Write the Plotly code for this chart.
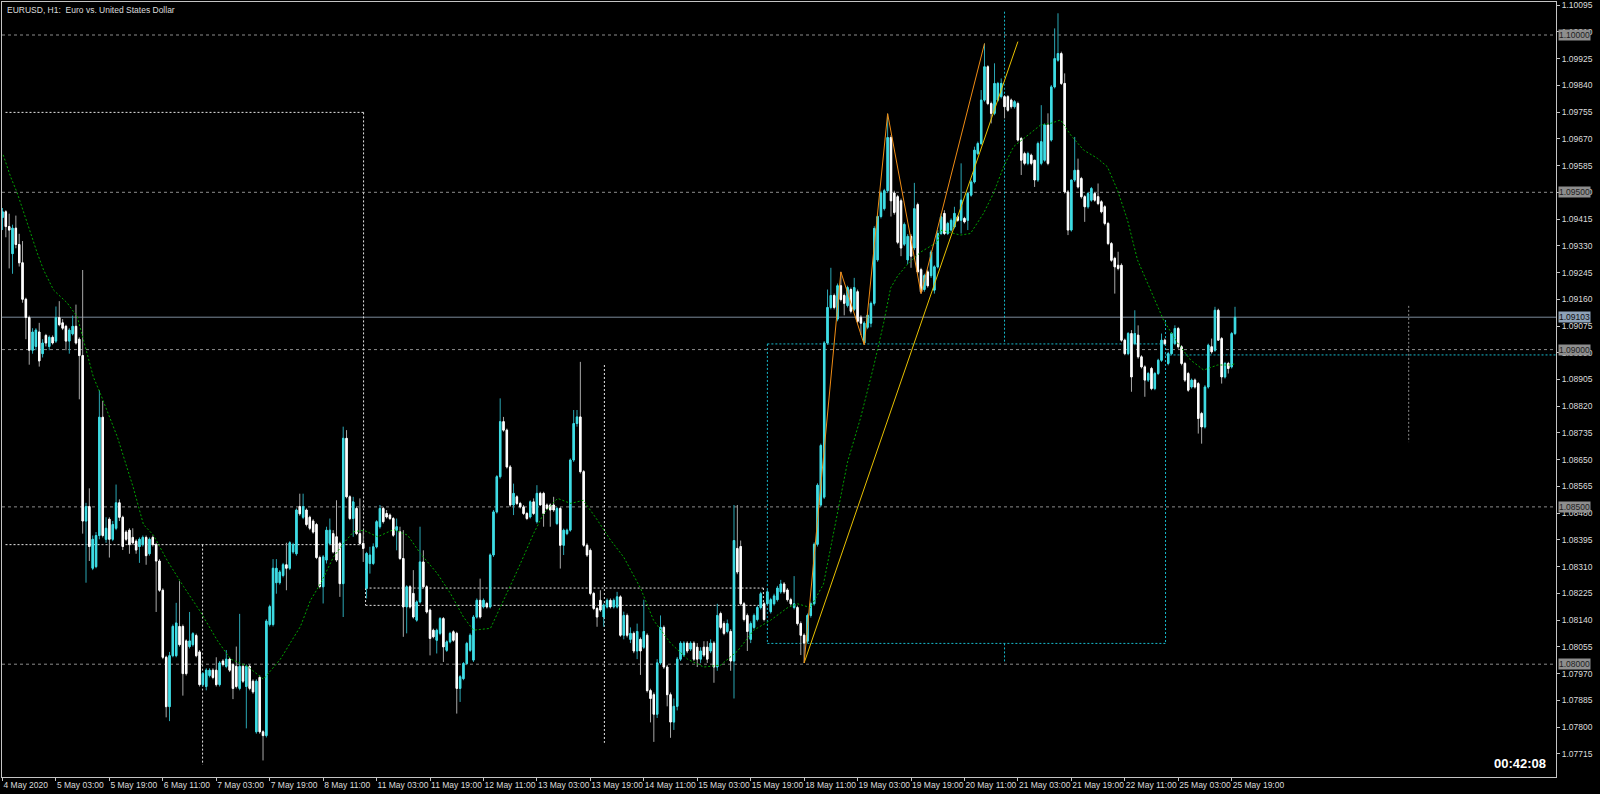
import plotly.graph_objects as go

# ---------------- data (EURUSD H1) ----------------
tick_bars = [0, 16, 32, 48, 64, 80, 96, 112, 128, 144, 160, 176, 192, 208, 224, 240,
             256, 272, 288, 304, 320, 336, 352, 368]
tick_labels = ["4 May 2020", "5 May 03:00", "5 May 19:00", "6 May 11:00", "7 May 03:00",
               "7 May 19:00", "8 May 11:00", "11 May 03:00", "11 May 19:00", "12 May 11:00",
               "13 May 03:00", "13 May 19:00", "14 May 11:00", "15 May 03:00", "15 May 19:00",
               "18 May 11:00", "19 May 03:00", "19 May 19:00", "20 May 11:00", "21 May 03:00",
               "21 May 19:00", "22 May 11:00", "25 May 03:00", "25 May 19:00"]
price_ticks = [1.10095, 1.10010, 1.09925, 1.09840, 1.09755, 1.09670, 1.09585, 1.09500, 1.09415,
               1.09330, 1.09245, 1.09160, 1.09075, 1.08990, 1.08905, 1.08820, 1.08735, 1.08650,
               1.08565, 1.08480, 1.08395, 1.08310, 1.08225, 1.08140, 1.08055, 1.07970, 1.07885,
               1.07800, 1.07715, 1.07630]
round_levels = [1.10000, 1.09500, 1.09000, 1.08500, 1.08000]
current_price = 1.09103

opens = [
 1.09420,1.09438,1.09391,1.09305,1.09386,1.09334,1.09276,1.09160,1.09102,1.08998,
 1.09010,1.09056,1.08987,1.09045,1.09010,1.09039,1.09027,1.09102,1.09085,1.09074,
 1.09027,1.09050,1.09074,1.09033,1.08981,1.08455,1.08501,1.08305,1.08310,1.08409,
 1.08785,1.08397,1.08461,1.08397,1.08432,1.08513,1.08467,1.08420,1.08426,1.08403,
 1.08391,1.08374,1.08380,1.08403,1.08351,1.08403,1.08380,1.08328,1.08235,1.08022,
 1.07865,1.08027,1.08027,1.08120,1.08120,1.08074,1.08056,1.08062,1.08091,1.08039,
 1.07935,1.07929,1.07964,1.07981,1.07981,1.07935,1.08010,1.07993,1.08016,1.07999,
 1.07993,1.07923,1.07993,1.07929,1.07993,1.07946,1.07785,1.07958,1.07785,1.07773,
 1.08126,1.08126,1.08259,1.08259,1.08282,1.08316,1.08305,1.08357,1.08351,1.08501,
 1.08467,1.08490,1.08467,1.08455,1.08444,1.08339,1.08246,1.08331,1.08384,1.08415,
 1.08405,1.08384,1.08256,1.08718,1.08532,1.08463,1.08495,1.08415,1.08384,1.08241,
 1.08320,1.08320,1.08373,1.08437,1.08495,1.08479,1.08474,1.08463,1.08426,1.08421,
 1.08336,1.08182,1.08246,1.08225,1.08140,1.08198,1.08325,1.08246,1.08172,1.08108,
 1.08076,1.08098,1.08145,1.08044,1.08071,1.08103,1.08098,1.07923,1.07954,1.08002,
 1.08044,1.08013,1.08150,1.08203,1.08182,1.08193,1.08182,1.08347,1.08484,1.08596,
 1.08771,1.08744,1.08627,1.08506,1.08532,1.08511,1.08500,1.08479,1.08468,1.08516,
 1.08453,1.08543,1.08543,1.08506,1.08506,1.08506,1.08447,1.08495,1.08378,1.08415,
 1.08426,1.08649,1.08765,1.08786,1.08612,1.08378,1.08362,1.08225,1.08177,1.08203,
 1.08150,1.08182,1.08203,1.08182,1.08182,1.08214,1.08092,1.08155,1.08079,1.08098,
 1.08042,1.08079,1.08054,1.08092,1.07916,1.07903,1.07841,1.08004,1.08117,1.07991,
 1.07903,1.07816,1.07866,1.08016,1.08029,1.08067,1.08048,1.08067,1.08054,1.08016,
 1.08054,1.08054,1.08042,1.08067,1.07991,1.08161,1.08129,1.08104,1.08104,1.08010,
 1.08368,1.08374,1.08192,1.08155,1.08079,1.08117,1.08142,1.08180,1.08192,1.08192,
 1.08167,1.08192,1.08205,1.08230,1.08255,1.08236,1.08205,1.08180,1.08180,1.08129,
 1.08092,1.08073,1.08155,1.08192,1.08381,1.08506,1.08531,1.09021,1.09134,1.09172,
 1.09097,1.09203,1.09172,1.09140,1.09191,1.09128,1.09184,1.09103,1.09021,1.09071,
 1.09084,1.09147,1.09285,1.09423,1.09448,1.09505,1.09674,1.09498,1.09486,1.09473,
 1.09335,1.09285,1.09360,1.09323,1.09461,1.09254,1.09191,1.09247,1.09235,1.09189,
 1.09263,1.09369,1.09433,1.09369,1.09380,1.09390,1.09422,1.09411,1.09417,1.09411,
 1.09491,1.09533,1.09623,1.09655,1.09793,1.09899,1.09782,1.09751,1.09793,1.09804,
 1.09804,1.09804,1.09793,1.09772,1.09782,1.09671,1.09623,1.09592,1.09618,1.09602,
 1.09539,1.09592,1.09602,1.09714,1.09666,1.09835,1.09920,1.09941,1.09846,1.09501,
 1.09380,1.09539,1.09570,1.09544,1.09486,1.09454,1.09475,1.09496,1.09486,1.09470,
 1.09454,1.09401,1.09337,1.09290,1.09268,1.09268,1.09030,1.08987,1.09051,1.09019,
 1.09046,1.08977,1.08945,1.08903,1.08940,1.08876,1.08924,1.08966,1.09030,1.08956,
 1.08987,1.09019,1.09067,1.09009,1.08956,1.08924,1.08881,1.08903,1.08892,1.08797,
 1.08754,1.08881,1.09009,1.08998,1.09125,1.09035,1.08913,1.08956,1.08945,1.09051]

highs = [
 1.09450,1.09443,1.09432,1.09397,1.09426,1.09368,1.09345,1.09165,1.09108,1.09068,
 1.09068,1.09085,1.09033,1.09050,1.09045,1.09045,1.09137,1.09154,1.09097,1.09079,
 1.09068,1.09108,1.09143,1.09039,1.09253,1.08513,1.08559,1.08409,1.08420,1.08871,
 1.08837,1.08467,1.08467,1.08455,1.08571,1.08524,1.08472,1.08426,1.08432,1.08432,
 1.08397,1.08403,1.08409,1.08409,1.08403,1.08409,1.08386,1.08334,1.08241,1.08027,
 1.08039,1.08126,1.08195,1.08264,1.08126,1.08079,1.08166,1.08102,1.08097,1.08045,
 1.07975,1.07987,1.07987,1.07987,1.08022,1.08010,1.08016,1.08045,1.08022,1.08004,
 1.08056,1.08160,1.07999,1.07999,1.07999,1.07952,1.07952,1.07964,1.07790,1.08143,
 1.08189,1.08334,1.08334,1.08299,1.08322,1.08386,1.08391,1.08386,1.08495,1.08542,
 1.08542,1.08495,1.08472,1.08461,1.08449,1.08345,1.08347,1.08437,1.08463,1.08426,
 1.08521,1.08389,1.08755,1.08744,1.08537,1.08532,1.08500,1.08527,1.08426,1.08357,
 1.08373,1.08384,1.08458,1.08506,1.08500,1.08490,1.08479,1.08468,1.08463,1.08437,
 1.08426,1.08251,1.08251,1.08299,1.08203,1.08437,1.08362,1.08251,1.08177,1.08113,
 1.08113,1.08150,1.08150,1.08076,1.08103,1.08108,1.08103,1.07965,1.08007,1.08071,
 1.08098,1.08156,1.08209,1.08272,1.08209,1.08198,1.08352,1.08490,1.08601,1.08845,
 1.08786,1.08749,1.08633,1.08574,1.08537,1.08516,1.08506,1.08484,1.08521,1.08527,
 1.08569,1.08548,1.08548,1.08511,1.08511,1.08532,1.08500,1.08500,1.08431,1.08431,
 1.08654,1.08808,1.08808,1.08961,1.08617,1.08384,1.08368,1.08230,1.08182,1.08235,
 1.08193,1.08209,1.08209,1.08209,1.08230,1.08219,1.08167,1.08161,1.08117,1.08104,
 1.08129,1.08085,1.08205,1.08098,1.07922,1.07910,1.08016,1.08155,1.08123,1.07998,
 1.07910,1.07891,1.08023,1.08073,1.08073,1.08073,1.08073,1.08073,1.08067,1.08054,
 1.08073,1.08073,1.08079,1.08073,1.08192,1.08167,1.08136,1.08142,1.08111,1.08506,
 1.08506,1.08393,1.08198,1.08161,1.08136,1.08161,1.08186,1.08230,1.08198,1.08242,
 1.08211,1.08224,1.08249,1.08268,1.08261,1.08242,1.08211,1.08280,1.08186,1.08136,
 1.08098,1.08161,1.08199,1.08387,1.08575,1.08701,1.09027,1.09191,1.09260,1.09178,
 1.09210,1.09247,1.09178,1.09203,1.09197,1.09228,1.09191,1.09109,1.09090,1.09115,
 1.09153,1.09392,1.09429,1.09505,1.09511,1.09750,1.09681,1.09505,1.09492,1.09480,
 1.09404,1.09367,1.09367,1.09530,1.09467,1.09260,1.09241,1.09254,1.09316,1.09268,
 1.09380,1.09433,1.09443,1.09406,1.09417,1.09454,1.09427,1.09592,1.09422,1.09501,
 1.09539,1.09645,1.09661,1.09825,1.09973,1.09904,1.09788,1.09910,1.09851,1.09862,
 1.09809,1.09809,1.09798,1.09793,1.09788,1.09676,1.09629,1.09629,1.09623,1.09602,
 1.09661,1.09777,1.09719,1.09751,1.09841,1.10021,1.10069,1.09947,1.09878,1.09507,
 1.09539,1.09676,1.09607,1.09549,1.09491,1.09501,1.09517,1.09501,1.09528,1.09475,
 1.09459,1.09406,1.09342,1.09295,1.09311,1.09274,1.09035,1.09056,1.09062,1.09125,
 1.09077,1.08982,1.08950,1.08929,1.08945,1.08929,1.08971,1.09051,1.09035,1.08993,
 1.09056,1.09077,1.09072,1.09014,1.08961,1.08929,1.08908,1.08908,1.08897,1.08802,
 1.08887,1.09019,1.09035,1.09136,1.09130,1.09040,1.08961,1.08961,1.09056,1.09136]

lows = [
 1.09380,1.09357,1.09258,1.09241,1.09322,1.09264,1.09149,1.09033,1.08952,1.08987,
 1.08998,1.08946,1.08975,1.09010,1.08998,1.09016,1.09021,1.09074,1.09062,1.08998,
 1.08987,1.09045,1.09016,1.08842,1.08415,1.08259,1.08328,1.08299,1.08305,1.08397,
 1.08403,1.08386,1.08339,1.08391,1.08426,1.08455,1.08363,1.08391,1.08351,1.08380,
 1.08351,1.08322,1.08374,1.08316,1.08345,1.08374,1.08166,1.08230,1.08016,1.07831,
 1.07819,1.08022,1.08022,1.08056,1.07900,1.07964,1.08050,1.08056,1.08022,1.07929,
 1.07929,1.07917,1.07958,1.07952,1.07929,1.07929,1.07993,1.07987,1.07975,1.07889,
 1.07923,1.07917,1.07940,1.07796,1.07917,1.07906,1.07779,1.07779,1.07694,1.07767,
 1.08120,1.08120,1.08224,1.08253,1.08276,1.08235,1.08299,1.08351,1.08345,1.08472,
 1.08461,1.08438,1.08426,1.08415,1.08334,1.08241,1.08193,1.08320,1.08378,1.08352,
 1.08325,1.08214,1.08150,1.08527,1.08458,1.08405,1.08410,1.08378,1.08325,1.08209,
 1.08288,1.08315,1.08368,1.08431,1.08447,1.08463,1.08458,1.08405,1.08362,1.08331,
 1.08087,1.08098,1.08177,1.08145,1.08135,1.08193,1.08241,1.08161,1.08028,1.08082,
 1.08034,1.08092,1.08007,1.08039,1.08066,1.08071,1.07843,1.07880,1.07949,1.07997,
 1.08039,1.08007,1.08145,1.08145,1.08177,1.08177,1.08177,1.08341,1.08479,1.08590,
 1.08739,1.08622,1.08500,1.08474,1.08506,1.08495,1.08474,1.08458,1.08463,1.08474,
 1.08447,1.08506,1.08437,1.08490,1.08437,1.08484,1.08442,1.08304,1.08347,1.08410,
 1.08421,1.08643,1.08755,1.08606,1.08373,1.08341,1.08219,1.08172,1.08119,1.08166,
 1.08119,1.08177,1.08177,1.08177,1.08177,1.08087,1.08079,1.08085,1.08067,1.08035,
 1.08016,1.07966,1.08048,1.07910,1.07815,1.07753,1.07829,1.07998,1.07985,1.07866,
 1.07766,1.07791,1.07853,1.08010,1.08023,1.08035,1.08042,1.08010,1.07991,1.08004,
 1.08023,1.08004,1.08035,1.07941,1.07979,1.08111,1.08092,1.08098,1.07979,1.07891,
 1.08286,1.08186,1.08136,1.08042,1.08067,1.08111,1.08136,1.08174,1.08136,1.08186,
 1.08161,1.08186,1.08199,1.08224,1.08224,1.08199,1.08186,1.08174,1.08123,1.08029,
 1.08004,1.08067,1.08148,1.08186,1.08374,1.08500,1.08525,1.09015,1.09128,1.09128,
 1.09090,1.09153,1.09109,1.09134,1.09115,1.09122,1.09084,1.09046,1.09015,1.09065,
 1.09071,1.09140,1.09279,1.09417,1.09442,1.09498,1.09423,1.09429,1.09335,1.09297,
 1.09329,1.09272,1.09260,1.09316,1.09241,1.09178,1.09184,1.09197,1.09228,1.09178,
 1.09258,1.09364,1.09364,1.09364,1.09375,1.09385,1.09406,1.09369,1.09401,1.09380,
 1.09486,1.09528,1.09618,1.09650,1.09788,1.09777,1.09719,1.09745,1.09788,1.09798,
 1.09735,1.09756,1.09766,1.09766,1.09661,1.09555,1.09586,1.09586,1.09586,1.09517,
 1.09533,1.09586,1.09597,1.09586,1.09661,1.09830,1.09915,1.09841,1.09496,1.09364,
 1.09375,1.09533,1.09512,1.09480,1.09406,1.09448,1.09470,1.09470,1.09459,1.09433,
 1.09395,1.09332,1.09279,1.09178,1.09252,1.09025,1.08982,1.08982,1.08866,1.09014,
 1.08971,1.08940,1.08850,1.08897,1.08871,1.08871,1.08919,1.08961,1.09014,1.08950,
 1.08982,1.09014,1.09003,1.08950,1.08897,1.08866,1.08876,1.08876,1.08733,1.08701,
 1.08749,1.08876,1.08987,1.08993,1.09035,1.08892,1.08908,1.08924,1.08940,1.09046]

closes = [
 1.09438,1.09391,1.09380,1.09386,1.09334,1.09276,1.09160,1.09102,1.08998,1.09056,
 1.09062,1.08964,1.09021,1.09021,1.09039,1.09021,1.09102,1.09079,1.09068,1.09027,
 1.09062,1.09074,1.09021,1.08981,1.08455,1.08501,1.08374,1.08397,1.08409,1.08785,
 1.08409,1.08432,1.08397,1.08444,1.08513,1.08467,1.08374,1.08397,1.08380,1.08386,
 1.08363,1.08397,1.08403,1.08345,1.08397,1.08380,1.08328,1.08235,1.08022,1.07865,
 1.08027,1.08120,1.08131,1.08062,1.07970,1.07970,1.08074,1.08097,1.08027,1.07935,
 1.07970,1.07981,1.07981,1.07958,1.07935,1.08004,1.07999,1.08016,1.07981,1.07923,
 1.07929,1.07993,1.07946,1.07993,1.07923,1.07912,1.07946,1.07785,1.07773,1.08137,
 1.08183,1.08305,1.08305,1.08293,1.08316,1.08305,1.08386,1.08380,1.08490,1.08478,
 1.08501,1.08444,1.08432,1.08420,1.08339,1.08247,1.08341,1.08426,1.08426,1.08357,
 1.08331,1.08256,1.08718,1.08532,1.08463,1.08516,1.08415,1.08384,1.08368,1.08352,
 1.08347,1.08373,1.08453,1.08495,1.08453,1.08468,1.08463,1.08410,1.08437,1.08336,
 1.08182,1.08246,1.08182,1.08150,1.08198,1.08325,1.08246,1.08166,1.08082,1.08087,
 1.08108,1.08145,1.08055,1.08071,1.08098,1.08076,1.07923,1.07960,1.08002,1.08066,
 1.08092,1.08150,1.08203,1.08150,1.08203,1.08182,1.08347,1.08484,1.08596,1.08771,
 1.08744,1.08627,1.08506,1.08543,1.08511,1.08500,1.08479,1.08463,1.08516,1.08479,
 1.08543,1.08506,1.08479,1.08495,1.08490,1.08490,1.08495,1.08378,1.08426,1.08426,
 1.08649,1.08765,1.08786,1.08612,1.08378,1.08347,1.08225,1.08177,1.08150,1.08172,
 1.08188,1.08203,1.08182,1.08203,1.08214,1.08092,1.08155,1.08092,1.08098,1.08042,
 1.08104,1.08042,1.08104,1.07916,1.07891,1.07841,1.08004,1.08117,1.07991,1.07903,
 1.07816,1.07866,1.08016,1.08067,1.08067,1.08042,1.08067,1.08016,1.08016,1.08042,
 1.08029,1.08016,1.08067,1.07991,1.08155,1.08117,1.08098,1.08129,1.08010,1.08393,
 1.08293,1.08192,1.08142,1.08104,1.08129,1.08155,1.08180,1.08224,1.08142,1.08230,
 1.08205,1.08217,1.08242,1.08255,1.08230,1.08205,1.08192,1.08192,1.08129,1.08092,
 1.08067,1.08155,1.08192,1.08381,1.08569,1.08695,1.09021,1.09134,1.09172,1.09134,
 1.09203,1.09159,1.09147,1.09197,1.09122,1.09197,1.09090,1.09084,1.09084,1.09109,
 1.09147,1.09385,1.09423,1.09498,1.09505,1.09674,1.09473,1.09436,1.09341,1.09323,
 1.09398,1.09360,1.09297,1.09448,1.09247,1.09184,1.09235,1.09203,1.09310,1.09263,
 1.09369,1.09422,1.09369,1.09401,1.09411,1.09433,1.09411,1.09475,1.09406,1.09496,
 1.09533,1.09634,1.09655,1.09793,1.09899,1.09782,1.09751,1.09846,1.09846,1.09846,
 1.09772,1.09761,1.09772,1.09788,1.09666,1.09602,1.09592,1.09623,1.09592,1.09539,
 1.09655,1.09661,1.09714,1.09592,1.09835,1.09925,1.09941,1.09846,1.09501,1.09380,
 1.09539,1.09570,1.09517,1.09486,1.09454,1.09496,1.09512,1.09475,1.09464,1.09438,
 1.09401,1.09337,1.09284,1.09263,1.09258,1.09030,1.08987,1.09051,1.08913,1.09051,
 1.08977,1.08945,1.08903,1.08924,1.08876,1.08924,1.08966,1.09030,1.09019,1.08987,
 1.09051,1.09067,1.09009,1.08956,1.08903,1.08871,1.08903,1.08881,1.08781,1.08754,
 1.08881,1.09014,1.08993,1.09125,1.09030,1.08913,1.08956,1.08940,1.09051,1.09103]

# moving average (green dotted), read at sample bars
ma_bars = [0.2, 2.4, 4.4, 6.3, 8.4, 10.4, 12.3, 15.3, 19.4, 22.4, 24.3, 27.2, 29.3, 34.4, 39.2,
           42.2, 45.2, 49.4, 54.2, 59.3, 64.4, 68.3, 73.4, 78.1, 83.2, 89.2, 92.2, 95.2, 99.1,
           102.1, 105.1, 108.1, 112.3, 117.1, 121.3, 125.1, 130.2, 134.1, 138.0, 141.0, 146.1,
           149.1, 154.2, 159.0, 162.0, 166.2, 170.1, 173.9, 178.1, 182.0, 186.0, 191.0, 194.9,
           200.0, 205.1, 209.9, 215.0, 220.1, 224.9, 230.0, 235.1, 238.0, 241.9, 245.8, 248.8,
           253.0, 256.9, 260.8, 263.8, 265.9, 268.0, 271.0, 274.9, 279.9, 280.8, 286.8, 289.8,
           293.7, 296.7, 299.7, 302.7, 306.9, 310.8, 313.8, 316.8, 319.8, 323.7, 327.8, 330.8,
           333.8, 336.8, 339.8, 343.7, 347.6, 351.8, 355.7, 359.6, 363.8, 367.7, 369.0]
ma_values = [1.09619, 1.09550, 1.09498, 1.09434, 1.09371, 1.09307, 1.09253, 1.09189, 1.09148,
             1.09104, 1.09031, 1.08913, 1.08860, 1.08722, 1.08560, 1.08444, 1.08410, 1.08328,
             1.08247, 1.08166, 1.08074, 1.08016, 1.07993, 1.07952, 1.08016, 1.08120, 1.08203,
             1.08256, 1.08341, 1.08384, 1.08421, 1.08426, 1.08405, 1.08428, 1.08410, 1.08352,
             1.08288, 1.08225, 1.08150, 1.08108, 1.08114, 1.08182, 1.08299, 1.08415, 1.08479,
             1.08527, 1.08511, 1.08521, 1.08458, 1.08395, 1.08340, 1.08242, 1.08140, 1.08067,
             1.08016, 1.07991, 1.07997, 1.08042, 1.08108, 1.08140, 1.08180, 1.08192, 1.08180,
             1.08255, 1.08417, 1.08643, 1.08783, 1.08946, 1.09084, 1.09196, 1.09234, 1.09272,
             1.09310, 1.09342, 1.09380, 1.09364, 1.09369, 1.09433, 1.09497, 1.09581, 1.09645,
             1.09682, 1.09714, 1.09719, 1.09730, 1.09682, 1.09634, 1.09608, 1.09581, 1.09507,
             1.09412, 1.09285, 1.09189, 1.09094, 1.09021, 1.08967, 1.08935, 1.08951, 1.08951,
             1.08955]

# zigzag (orange) and trend line (yellow)
zz_bars = [240, 251, 258, 265, 275, 294]
zz_values = [1.08004, 1.09247, 1.09015, 1.09750, 1.09178, 1.09973]
trend_bars = [240, 304]
trend_values = [1.08004, 1.09979]

# chart objects: (bar_from, bar_to, price) and (bar, price_from, price_to)
white_hlines = [(0.9, 108.1, 1.09754), (0.9, 108.1, 1.08380),
                (108.7, 227.8, 1.08242), (108.7, 227.8, 1.08187)]
white_vlines = [(108.1, 1.09754, 1.08380), (59.9, 1.08380, 1.07680),
                (108.7, 1.08242, 1.08187), (227.8, 1.08242, 1.08187),
                (180.2, 1.08951, 1.07750)]
cyan_hlines = [(229.0, 348.2, 1.09018), (229.0, 348.2, 1.08066), (348.2, 465.2, 1.08983)]
cyan_vlines = [(229.0, 1.09018, 1.08066), (348.2, 1.09094, 1.08066),
               (300.0, 1.10074, 1.09018), (300.0, 1.08066, 1.08004)]
gray_vlines = [(421.0, 1.09139, 1.08706)]

# ---------------- styling ----------------
UP_BODY, UP_WICK = "#3fdde4", "#2aa6b4"
DN_BODY, DN_WICK = "#ffffff", "#a8a8a8"
AXIS_COL = "#c4c4c4"
TXT_COL = "#dcdcdc"
FONT = "Liberation Sans"

n = min(len(opens), len(highs), len(lows), len(closes))
opens, highs, lows, closes = opens[:n], highs[:n], lows[:n], closes[:n]
bars = list(range(n))
body_hi = [max(o, c) for o, c in zip(opens, closes)]
body_lo = [min(o, c) for o, c in zip(opens, closes)]

fig = go.Figure()
fig.add_trace(go.Candlestick(
    x=bars, open=opens, high=highs, low=lows, close=closes,
    increasing=dict(line=dict(color=UP_WICK, width=1), fillcolor=UP_WICK),
    decreasing=dict(line=dict(color=DN_WICK, width=1), fillcolor=DN_WICK),
    whiskerwidth=0, hoverinfo="skip", showlegend=False))
fig.add_trace(go.Candlestick(
    x=bars, open=opens, high=body_hi, low=body_lo, close=closes,
    increasing=dict(line=dict(color=UP_BODY, width=1), fillcolor=UP_BODY),
    decreasing=dict(line=dict(color=DN_BODY, width=1), fillcolor=DN_BODY),
    whiskerwidth=0, hoverinfo="skip", showlegend=False))

fig.add_trace(go.Scatter(x=ma_bars, y=ma_values, mode="lines",
                         line=dict(color="#00a400", width=1, dash="2px,2px"),
                         hoverinfo="skip", showlegend=False))
fig.add_trace(go.Scatter(x=trend_bars, y=trend_values, mode="lines",
                         line=dict(color="#e8c000", width=1),
                         hoverinfo="skip", showlegend=False))
fig.add_trace(go.Scatter(x=zz_bars, y=zz_values, mode="lines",
                         line=dict(color="#f08c14", width=1),
                         hoverinfo="skip", showlegend=False))

shapes = []
for lv in round_levels:
    shapes.append(dict(type="line", xref="paper", x0=0, x1=1, yref="y", y0=lv, y1=lv,
                       line=dict(color="#8c8c8c", width=1, dash="3px,3px"), layer="below"))
shapes.append(dict(type="line", xref="paper", x0=0, x1=1, yref="y",
                   y0=current_price, y1=current_price,
                   line=dict(color="#7b8a9a", width=1), layer="below"))


def hline(x0, x1, y, col):
    return dict(type="line", xref="x", yref="y", x0=x0, x1=x1, y0=y, y1=y,
                line=dict(color=col, width=1, dash="2px,2px"), layer="below")


def vline(x, y0, y1, col):
    return dict(type="line", xref="x", yref="y", x0=x, x1=x, y0=y0, y1=y1,
                line=dict(color=col, width=1, dash="2px,2px"), layer="below")


for a, b, p in white_hlines:
    shapes.append(hline(a, b, p, "#e6e6e6"))
for a, p0, p1 in white_vlines:
    shapes.append(vline(a, p0, p1, "#e6e6e6"))
for a, b, p in cyan_hlines:
    shapes.append(hline(a, b, p, "#17b9cc"))
for a, p0, p1 in cyan_vlines:
    shapes.append(vline(a, p0, p1, "#17b9cc"))
for a, p0, p1 in gray_vlines:
    shapes.append(vline(a, p0, p1, "#8a8a8a"))

annotations = []
for lv in round_levels:
    annotations.append(dict(xref="paper", x=1, yref="y", y=lv, text=f"{lv:.5f}",
                            xanchor="left", yanchor="middle", xshift=2, showarrow=False,
                            bgcolor="#8e8e8e", borderpad=0,
                            font=dict(family=FONT, size=8.5, color="#1e1e1e")))
annotations.append(dict(xref="paper", x=1, yref="y", y=current_price, text=f"{current_price:.5f}",
                        xanchor="left", yanchor="middle", xshift=2, showarrow=False,
                        bgcolor="#8ea2b8", borderpad=0,
                        font=dict(family=FONT, size=8.5, color="#101010")))
annotations.append(dict(xref="paper", yref="paper", x=0, y=1, xanchor="left", yanchor="top",
                        xshift=3, yshift=-1, showarrow=False,
                        text="EURUSD, H1:&nbsp; Euro vs. United States Dollar",
                        font=dict(family=FONT, size=8.5, color=TXT_COL)))
annotations.append(dict(xref="paper", yref="paper", x=0.9949, y=0.0168, xanchor="right",
                        yanchor="middle", showarrow=False, text="<b>00:42:08</b>",
                        font=dict(family=FONT, size=13, color="#ffffff")))

fig.update_layout(
    width=1600, height=794,
    margin=dict(l=2, r=44, t=2, b=17),
    paper_bgcolor="#000000", plot_bgcolor="#000000",
    shapes=shapes, annotations=annotations,
    showlegend=False, hovermode=False, boxgap=0.4,
    xaxis=dict(range=[-0.15, 465.1], tickmode="array", tickvals=tick_bars, ticktext=tick_labels,
               tickangle=0, ticks="outside", ticklen=3, tickcolor=AXIS_COL,
               ticklabelposition="outside right",
               tickfont=dict(family=FONT, size=8.5, color=TXT_COL),
               showline=True, linecolor=AXIS_COL, linewidth=1, mirror=True,
               showgrid=False, zeroline=False, rangeslider=dict(visible=False),
               automargin=False, fixedrange=True),
    yaxis=dict(range=[1.076414, 1.101049], side="right", tickmode="array", tickvals=price_ticks,
               tickformat=".5f", ticks="outside", ticklen=3, tickcolor=AXIS_COL,
               tickfont=dict(family=FONT, size=8.5, color=TXT_COL),
               showline=True, linecolor=AXIS_COL, linewidth=1, mirror=True,
               showgrid=False, zeroline=False, automargin=False, fixedrange=True),
)

fig.write_html("out.html", config={"displayModeBar": False},
               post_script="document.body.style.margin='0px';"
                           "document.body.style.background='#000000';"
                           "document.body.style.overflow='hidden';")
